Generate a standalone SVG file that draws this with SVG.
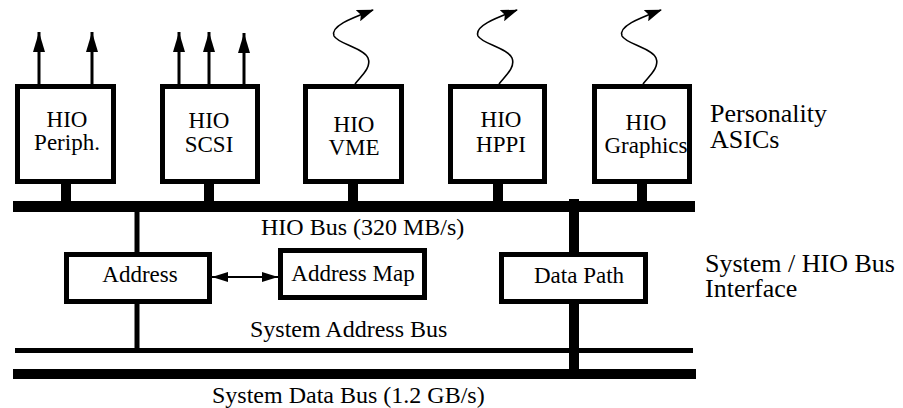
<svg xmlns="http://www.w3.org/2000/svg" width="903" height="408" viewBox="0 0 903 408">
<style>
.box{fill:#fff;stroke:#000;stroke-width:5}
text{font-family:'Liberation Serif','Times New Roman',Times,serif;fill:#000}
.t{font-size:23px;text-anchor:middle}
.lbl{font-size:24px}
.side{font-size:26px}
.ar{stroke:#000;stroke-width:3;fill:none;marker-end:url(#ah)}
.sq{stroke:#000;stroke-width:1.6;fill:none;marker-end:url(#sh)}
</style>
<defs>
<marker id="ah" viewBox="0 0 20 12" refX="20" refY="6" markerWidth="20" markerHeight="12" markerUnits="userSpaceOnUse" orient="auto"><path d="M0,0 L20,6 L0,12 Z" fill="#000"/></marker>
<marker id="sh" viewBox="0 0 17 12" refX="16" refY="6" markerWidth="17" markerHeight="12" markerUnits="userSpaceOnUse" orient="auto"><path d="M0,0 L17,6 L0,12 L3,6 Z" fill="#000"/></marker>
<marker id="dh" viewBox="0 0 16 10" refX="16" refY="5" markerWidth="16" markerHeight="10" markerUnits="userSpaceOnUse" orient="auto"><path d="M0,0 L16,5 L0,10 Z" fill="#000"/></marker>
<marker id="dt" viewBox="0 0 16 10" refX="0" refY="5" markerWidth="16" markerHeight="10" markerUnits="userSpaceOnUse" orient="auto"><path d="M16,0 L0,5 L16,10 Z" fill="#000"/></marker>
</defs>
<g id="connectors">
<rect x="13" y="201" width="682" height="11" fill="#000"/>
<rect x="15" y="348" width="678" height="5" fill="#000"/>
<rect x="13" y="369" width="683" height="10" fill="#000"/>
<rect x="61" y="184" width="10" height="18" fill="#000"/>
<rect x="204" y="184" width="10" height="18" fill="#000"/>
<rect x="348" y="184" width="10" height="18" fill="#000"/>
<rect x="493" y="184" width="10" height="18" fill="#000"/>
<rect x="637" y="184" width="10" height="18" fill="#000"/>
<rect x="134.5" y="212" width="5" height="42" fill="#000"/>
<rect x="134.5" y="302" width="5" height="48" fill="#000"/>
<rect x="569" y="199" width="10" height="180" fill="#000"/>
<line class="ar" x1="39" y1="84" x2="39" y2="32"/>
<line class="ar" x1="92" y1="84" x2="92" y2="32"/>
<line class="ar" x1="179" y1="84" x2="179" y2="32"/>
<line class="ar" x1="209" y1="84" x2="209" y2="32"/>
<line class="ar" x1="244" y1="84" x2="244" y2="33"/>
<path class="sq" d="M355,84 C360,77 372,68 368,58 C364,48 338,44 334,36 C330,26 352,18 373,10"/>
<path class="sq" d="M499,84 C504,77 516,68 512,58 C508,48 482,44 478,36 C474,26 496,18 517,10"/>
<path class="sq" d="M643,84 C648,77 660,68 656,58 C652,48 626,44 622,36 C618,26 640,18 661,10"/>
<line x1="212" y1="277" x2="278" y2="277" stroke="#000" stroke-width="2" marker-start="url(#dt)" marker-end="url(#dh)"/>
</g>
<g id="periph"><rect class="box" x="17.5" y="86.5" width="96" height="95"/><text class="t" x="67" y="127" font-family="Liberation Serif">HIO</text><text class="t" x="67" y="150" font-family="Liberation Serif">Periph.</text></g>
<g id="scsi"><rect class="box" x="162.5" y="86.5" width="95" height="95"/><text class="t" x="209" y="128">HIO</text><text class="t" x="209" y="152">SCSI</text></g>
<g id="vme"><rect class="box" x="305.5" y="86.5" width="96" height="95"/><text class="t" x="354" y="132">HIO</text><text class="t" x="354" y="155">VME</text></g>
<g id="hppi"><rect class="box" x="450.5" y="86.5" width="94" height="95"/><text class="t" x="501" y="127">HIO</text><text class="t" x="501" y="152">HPPI</text></g>
<g id="graphics"><rect class="box" x="594.5" y="86.5" width="95" height="95"/><text class="t" x="646" y="130">HIO</text><text class="t" x="646" y="153">Graphics</text></g>
<g id="address"><rect class="box" x="66.5" y="254.5" width="143" height="47"/><text class="t" x="140" y="282">Address</text></g>
<g id="addressmap"><rect class="box" x="280.5" y="250.5" width="144" height="47"/><text class="t" x="353" y="281">Address Map</text></g>
<g id="datapath"><rect class="box" x="501.5" y="254.5" width="144" height="47"/><text class="t" x="579" y="283">Data Path</text></g>
<g id="labels">
<text class="lbl" x="261" y="235">HIO Bus (320 MB/s)</text>
<text class="lbl" x="250" y="337">System Address Bus</text>
<text class="lbl" x="212" y="403">System Data Bus (1.2 GB/s)</text>
<text class="side" x="710" y="122">Personality</text>
<text class="side" x="710" y="148">ASICs</text>
<text class="side" x="705" y="272">System / HIO Bus</text>
<text class="side" x="705" y="297">Interface</text>
</g>
</svg>
